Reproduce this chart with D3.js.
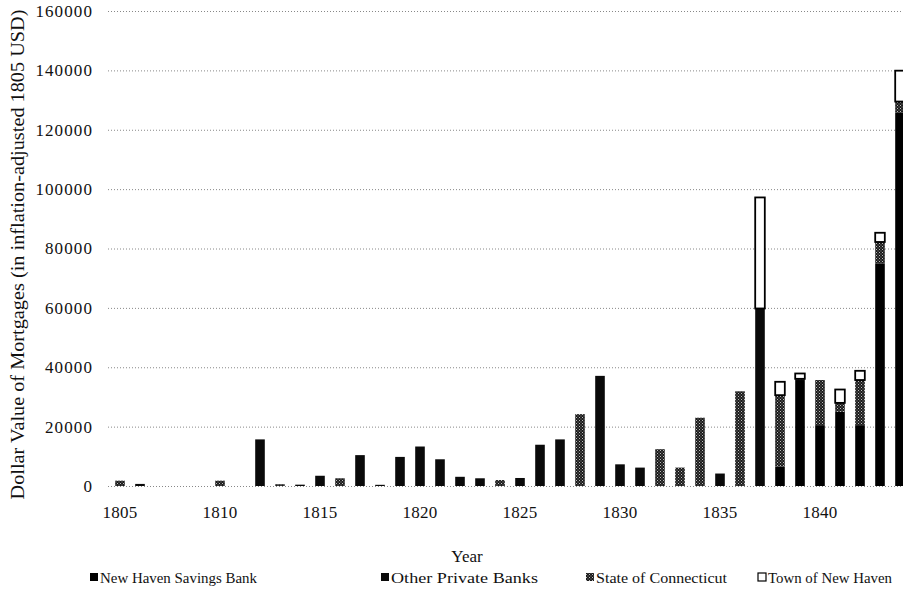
<!DOCTYPE html>
<html>
<head>
<meta charset="utf-8">
<script src="https://cdn.jsdelivr.net/npm/d3@7"></script>
<style>
  body { margin: 0; background: #fff; }
  svg text { font-family: "Liberation Serif", "DejaVu Serif", serif; fill: #111; }
</style>
</head>
<body>
<div id="chart"></div>
<script>
// DATA
const years = d3.range(1805, 1845);
const savingsBank = [0,0,0,0,0, 0,0,0,0,0, 0,0,0,0,0, 0,0,0,0,0,
  0,0,0,0,0, 0,0,0,0,0, 0,0,0,6500,35700, 20500,25000,20500,75000,125700];
const otherBanks = [0,700,0,0,0, 0,0,15700,0,450, 3450,0,10400,400,9800, 13300,9000,3100,2600,0,
  2700,13900,15700,0,37100, 7300,6200,0,0,0, 4200,0,59800,0,0, 0,0,0,0,0];
const stateCT = [1800,0,0,0,0, 1800,0,0,600,0, 0,2600,0,0,0, 0,0,0,0,2000,
  0,0,0,24200,0, 0,0,12400,6200,23000, 0,31900,0,24100,400, 15200,3000,15200,7200,3800];
const townNH = [0,0,0,0,0, 0,0,0,0,0, 0,0,0,0,0, 0,0,0,0,0,
  0,0,0,0,0, 0,0,0,0,0, 0,0,37400,4500,1800, 0,4500,3100,3100,10400];
const seriesNames = ["New Haven Savings Bank", "Other Private Banks", "State of Connecticut", "Town of New Haven"];
const yTicks = [0, 20000, 40000, 60000, 80000, 100000, 120000, 140000, 160000];
const xTickYears = [1805, 1810, 1815, 1820, 1825, 1830, 1835, 1840];

/** CONSTANTS */
const width = 903, height = 596;
const margin = { top: 11, bottom: 110, left: 110, right: 0 };
const legendX = [90, 381, 586, 758];
const legendLen = [157, 147, 131, 124];

const table = years.map((yr, i) => ({
  year: yr,
  [seriesNames[0]]: savingsBank[i],
  [seriesNames[1]]: otherBanks[i],
  [seriesNames[2]]: stateCT[i],
  [seriesNames[3]]: townNH[i]
}));
const stacked = d3.stack().keys(seriesNames)(table);

/** SCALES */
const xScale = d3.scaleBand()
  .domain(years)
  .range([margin.left, margin.left + 800])
  .paddingInner(0.52)
  .paddingOuter(0.26);

const yScale = d3.scaleLinear()
  .domain([0, 160000])
  .range([height - margin.bottom, margin.top]);

const svg = d3.select("#chart").append("svg")
  .attr("width", width)
  .attr("height", height);

// dithered grey used for State of Connecticut
const defs = svg.append("defs");
const pat = defs.append("pattern")
  .attr("id", "dither")
  .attr("width", 3).attr("height", 3)
  .attr("patternUnits", "userSpaceOnUse");
pat.append("rect").attr("width", 3).attr("height", 3).attr("fill", "#1a1a1a");
pat.append("rect").attr("x", 0).attr("y", 0).attr("width", 1).attr("height", 1).attr("fill", "#bbb");
pat.append("rect").attr("x", 1.5).attr("y", 1.5).attr("width", 1).attr("height", 1).attr("fill", "#999");

const fills = ["#000", "#0a0a0a", "url(#dither)", "#fff"];
const strokes = ["none", "none", "none", "#000"];

// gridlines + y labels
const yAxis = d3.axisLeft(yScale).tickValues(yTicks).tickSize(-(width - margin.left + 2)).tickFormat(d3.format("d"));
svg.append("g")
  .attr("transform", `translate(${margin.left - 2},0)`)
  .call(yAxis)
  .call(g => g.select(".domain").remove())
  .call(g => g.selectAll(".tick line")
    .attr("stroke", "#888")
    .attr("stroke-dasharray", "1,2"))
  .call(g => g.selectAll(".tick text")
    .attr("x", -15)
    .attr("font-size", 17)
    .attr("letter-spacing", 1.1));

// bars
svg.append("g")
  .selectAll("g")
  .data(stacked)
  .join("g")
  .attr("fill", (d, i) => fills[i])
  .attr("stroke", (d, i) => strokes[i])
  .attr("stroke-width", 1.8)
  .selectAll("rect")
  .data(d => d.filter(p => p[1] > p[0]))
  .join("rect")
  .attr("x", d => xScale(d.data.year))
  .attr("width", xScale.bandwidth())
  .attr("y", d => yScale(d[1]))
  .attr("height", d => yScale(d[0]) - yScale(d[1]));

// x axis labels
const xAxis = d3.axisBottom(xScale).tickValues(xTickYears).tickSize(0);
svg.append("g")
  .attr("transform", `translate(0,${height - margin.bottom + 17})`)
  .call(xAxis)
  .call(g => g.select(".domain").remove())
  .call(g => g.selectAll(".tick text")
    .attr("font-size", 17)
    .attr("letter-spacing", 0.3));

// axis titles
svg.append("text")
  .attr("transform", `translate(24,${(yScale(0) + yScale(160000)) / 2 + 6}) rotate(-90)`)
  .attr("text-anchor", "middle")
  .attr("font-size", 19)
  .attr("textLength", 490)
  .attr("lengthAdjust", "spacingAndGlyphs")
  .text("Dollar Value of Mortgages (in inflation-adjusted 1805 USD)");

svg.append("text")
  .attr("x", 467)
  .attr("y", 562)
  .attr("text-anchor", "middle")
  .attr("font-size", 17)
  .text("Year");

// legend
const legend = svg.append("g").selectAll("g")
  .data(seriesNames)
  .join("g")
  .attr("transform", (d, i) => `translate(${legendX[i]},583)`);
legend.append("rect")
  .attr("x", 0).attr("y", -10)
  .attr("width", 8).attr("height", 8)
  .attr("fill", (d, i) => fills[i])
  .attr("stroke", (d, i) => strokes[i])
  .attr("stroke-width", 1.2);
legend.append("text")
  .attr("x", 10)
  .attr("font-size", 15.5)
  .attr("textLength", (d, i) => legendLen[i])
  .attr("lengthAdjust", "spacingAndGlyphs")
  .text(d => d);
</script>
</body>
</html>
